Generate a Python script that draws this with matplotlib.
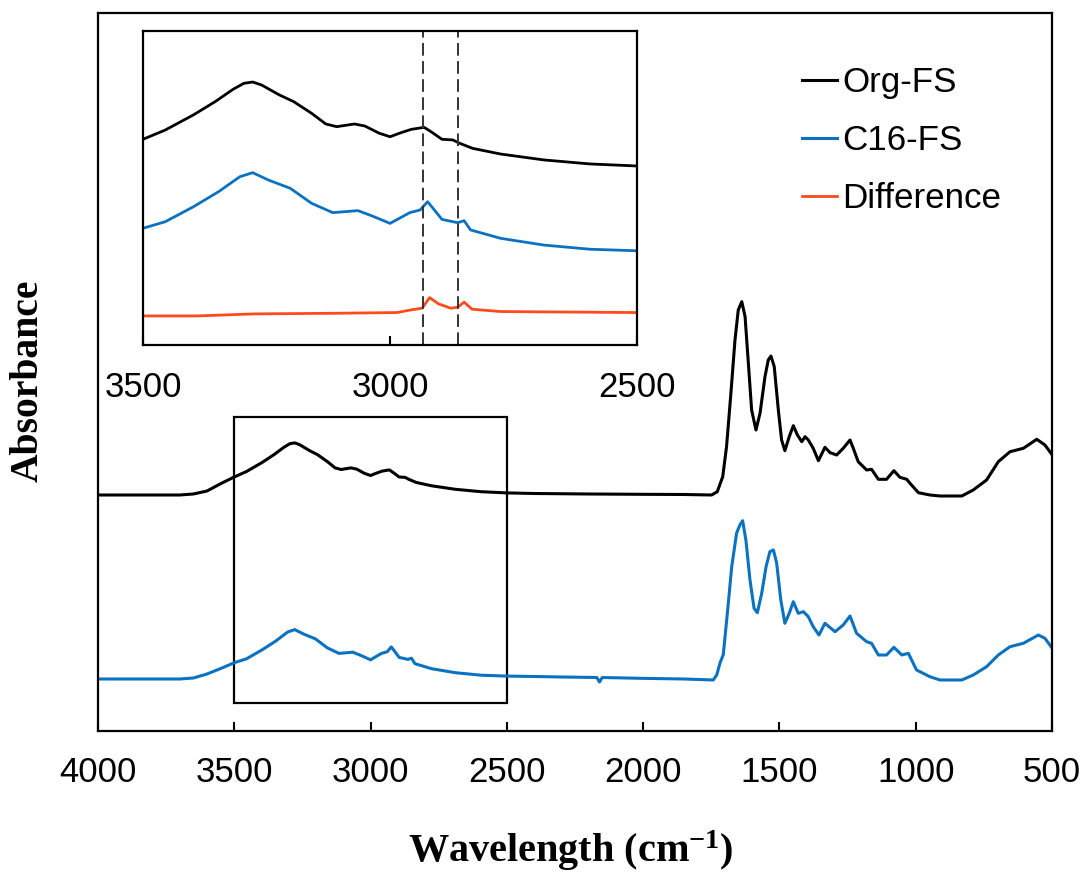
import numpy as np
import matplotlib
matplotlib.use('Agg')
import matplotlib.pyplot as plt
from matplotlib.patches import Rectangle

plt.rcParams['font.family'] = ['Liberation Sans', 'DejaVu Sans']
plt.rcParams['mathtext.fontset'] = 'custom'
plt.rcParams['mathtext.rm'] = 'Liberation Serif:bold'
plt.rcParams['mathtext.it'] = 'Liberation Serif:bold'
plt.rcParams['mathtext.bf'] = 'Liberation Serif:bold'

# Org-FS spectrum (wavenumber cm-1, absorbance a.u.)
org_wn = [4000, 3850, 3700, 3650, 3600, 3545, 3500, 3455, 3398, 3354, 3318, 3296,
          3278, 3260, 3224, 3195, 3159, 3130, 3108, 3072, 3051, 3022, 3000, 2978,
          2957, 2931, 2917, 2895, 2873, 2859, 2833, 2776, 2689, 2595, 2501, 2400,
          2200, 2012, 1850, 1749, 1728, 1708, 1694, 1679, 1663, 1651, 1638, 1626,
          1614, 1602, 1586, 1571, 1553, 1541, 1531, 1519, 1504, 1492, 1480, 1464,
          1449, 1434, 1418, 1406, 1394, 1376, 1357, 1333, 1314, 1290, 1266, 1241,
          1229, 1211, 1180, 1162, 1137, 1107, 1080, 1058, 1033, 1021, 990, 948,
          911, 831, 789, 740, 697, 654, 605, 556, 526, 499]
org_abs = [.236, .236, .236, .237, .240, .248, .254, .2595, .2685, .2764, .2837, .2873,
           .2881, .2863, .2804, .2764, .2695, .2631, .2615, .2631, .2619, .2576, .2555, .2579,
           .2599, .2611, .2585, .2540, .2536, .2516, .2486, .2452, .2417, .2393, .2381, .2375,
           .2370, .2367, .2365, .236, .2393, .2543, .2843, .3343, .391, .421, .4293, .4143,
           .368, .321, .301, .318, .3543, .371, .375, .3643, .321, .291, .2803, .2943,
           .3053, .296, .2893, .2943, .291, .2827, .2703, .2837, .2783, .276, .2827, .291,
           .2827, .2693, .261, .2617, .2517, .2517, .2603, .2537, .2517, .2477, .2383, .236,
           .235, .235, .241, .251, .2693, .2793, .2827, .2917, .286, .276]

# C16-FS spectrum
c16_wn = [4000, 3850, 3700, 3650, 3600, 3545, 3500, 3455, 3398, 3347, 3304, 3278,
          3246, 3202, 3159, 3116, 3065, 3036, 3000, 2960, 2939, 2924, 2913, 2895,
          2863, 2850, 2837, 2776, 2689, 2595, 2501, 2400, 2300, 2170, 2160, 2150,
          2012, 1850, 1743, 1730, 1718, 1706, 1691, 1675, 1657, 1645, 1635, 1623, 1608,
          1593, 1581, 1565, 1549, 1535, 1522, 1510, 1495, 1480, 1464, 1449, 1431,
          1412, 1394, 1376, 1355, 1333, 1296, 1266, 1241, 1217, 1180, 1162, 1137,
          1107, 1080, 1051, 1027, 997, 948, 911, 831, 789, 740, 697, 654,
          605, 550, 526, 499]
c16_abs = [.052, .052, .052, .053, .057, .063, .0683, .0722, .0811, .0901, .0990, .1014,
           .0970, .0921, .0832, .0776, .0788, .0756, .0712, .0776, .0792, .0841, .0802, .0736,
           .0716, .0728, .0673, .0623, .0583, .0558, .0549, .0545, .054, .0535, .049, .0535,
           .0527, .052, .051, .056, .068, .0763, .1177, .1643, .198, .2060, .2103, .191, .151,
           .1227, .1183, .1377, .1643, .1793, .181, .1677, .131, .1077, .1177, .1293, .1177,
           .1193, .1143, .1043, .096, .1077, .0993, .106, .115, .0977, .0893, .0877, .076,
           .076, .0837, .076, .0777, .061, .0543, .051, .051, .056, .0643, .076, .0843,
           .0877, .096, .0927, .0827]

# Difference spectrum (inset only)
diff_wn = [3500, 3390, 3275, 3102, 2986, 2957, 2935, 2920, 2902, 2877, 2863, 2850,
           2834, 2776, 2501]
diff_abs = [-.0018, -.0018, -.0006, -.0002, .0002, .0018, .0028, .0091, .0054, .0028,
            .0034, .0064, .0022, .0008, .0002]

# vertical offsets used only in the inset
c16_inset_shift = 0.1327
diff_inset_shift = 0.1506
dash_positions = [2933, 2863]

BLACK = '#000000'
BLUE = '#0A72C0'
RED = '#FF4A1C'

fig = plt.figure(figsize=(10.86, 8.72), dpi=100)
ax = fig.add_axes([0.0902, 0.1617, 0.8785, 0.8234])

l1, = ax.plot(org_wn, org_abs, color=BLACK, lw=2.2, label='Org-FS')
l2, = ax.plot(c16_wn, c16_abs, color=BLUE, lw=2.2, label='C16-FS')
ax.set_xlim(4000, 500)
ax.set_ylim(0, 0.718)
ax.set_xticks(range(4000, 499, -500))
ax.set_yticks([])
ax.tick_params(axis='x', direction='in', length=6.5, width=1.5, pad=18, labelsize=25)
for s in ax.spines.values():
    s.set_linewidth(1.6)

ax.add_patch(Rectangle((3500, 0.028), -1000, 0.286, fill=False, lw=1.6, ec='black'))

# inset
ax2 = fig.add_axes([0.1317, 0.6044, 0.4549, 0.3601])
ax2.plot(org_wn, org_abs, color=BLACK, lw=2.0)
ax2.plot(c16_wn, np.array(c16_abs) + c16_inset_shift, color=BLUE, lw=2.0)
l3, = ax2.plot(diff_wn, np.array(diff_abs) + diff_inset_shift, color=RED, lw=2.0, label='Difference')
for d in dash_positions:
    ax2.axvline(d, color='#333333', lw=1.4, dashes=(6.5, 2.8))
ax2.set_xlim(3500, 2500)
ax2.set_ylim(0.1315, 0.3185)
ax2.set_xticks([3500, 3000, 2500])
ax2.set_yticks([])
ax2.tick_params(axis='x', direction='in', length=6.5, width=1.5, pad=19, labelsize=25)
for s in ax2.spines.values():
    s.set_linewidth(1.6)

ax.legend(handles=[l1, l2, l3], loc='upper left', bbox_to_anchor=(802 / 1086, 1 - 66 / 872),
          bbox_transform=fig.transFigure, frameon=False, fontsize=25.2, handlelength=1.0,
          handletextpad=0.15, labelspacing=0.72, borderpad=0, borderaxespad=0)

fig.text(571 / 1086, 1 - 851 / 872, 'Wavelength (cm$^{-1}$)', ha='center', va='center',
         family='Liberation Serif', weight='bold', fontsize=29)
fig.text(28 / 1086, 1 - 381 / 872, 'Absorbance', ha='center', va='center', rotation=90,
         family='Liberation Serif', weight='bold', fontsize=28.5)

fig.savefig('out.png', dpi=100)
